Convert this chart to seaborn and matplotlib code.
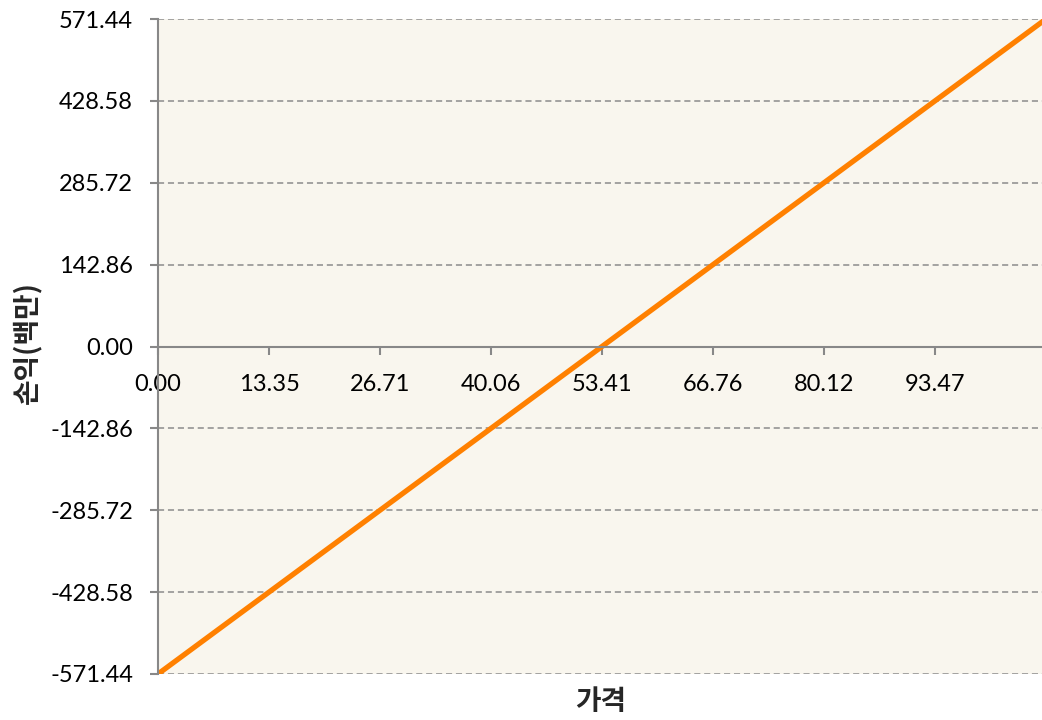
import matplotlib
matplotlib.use("Agg")
import matplotlib.pyplot as plt
import seaborn as sns
import pandas as pd

# ── data ──────────────────────────────────────────────────────────────────────
price = [0.0, 106.82]
profit = [-571.44, 571.44]
x_ticks = [0.00, 13.35, 26.71, 40.06, 53.41, 66.76, 80.12, 93.47]
y_ticks = [-571.44, -428.58, -285.72, -142.86, 0.00, 142.86, 285.72, 428.58, 571.44]

df = pd.DataFrame({"가격": price, "손익(백만)": profit})

sns.set_theme(style="white")
plt.rcParams["font.family"] = ["Lato", "Noto Sans CJK KR", "DejaVu Sans"]

fig = plt.figure(figsize=(10.42, 7.2), dpi=100)
ax = fig.add_axes([158 / 1042, 1 - 674 / 720, (1046 - 158) / 1042, (674 - 19) / 720])
ax.set_facecolor("#F9F6EE")

sns.lineplot(data=df, x="가격", y="손익(백만)", ax=ax, color="#FF8000", linewidth=3.8)

# spines first: moving a spine resets the tick objects
for s in ["top", "right"]:
    ax.spines[s].set_visible(False)
ax.spines["left"].set_color("#888888")
ax.spines["left"].set_linewidth(1.5)
ax.spines["bottom"].set_position(("data", 0))
ax.spines["bottom"].set_color("#888888")
ax.spines["bottom"].set_linewidth(1.5)

ax.set_xlim(0, 106.82)
ax.set_ylim(-571.44, 571.44)
ax.set_xticks(x_ticks)
ax.set_yticks(y_ticks)
ax.set_xticklabels([f"{v:.2f}" for v in x_ticks])
ax.set_yticklabels([f"{v:.2f}" for v in y_ticks])

ax.yaxis.grid(True, linestyle=(0, (4, 2.5)), color="#8C8C8C", linewidth=1.1)
ax.set_axisbelow(True)

ax.tick_params(axis="y", direction="out", length=6, width=1.5, color="#888888",
               pad=12, labelsize=17, labelcolor="black", left=True)
ax.tick_params(axis="x", direction="out", length=6, width=1.5, color="#888888",
               pad=13.5, labelsize=17, labelcolor="black", bottom=True)

ax.set_xlabel("")
ax.set_ylabel("")
fig.text(601 / 1042, 1 - 702 / 720, "가격", ha="center", va="center",
         fontsize=20, fontweight="bold", family=["Noto Sans CJK KR", "DejaVu Sans"])
fig.text(27 / 1042, 1 - 343 / 720, "손익(백만)", ha="center", va="center", rotation=90,
         fontsize=20, fontweight="bold", family=["Noto Sans CJK KR", "DejaVu Sans"])

fig.savefig("out.png", dpi=100, facecolor="white")
